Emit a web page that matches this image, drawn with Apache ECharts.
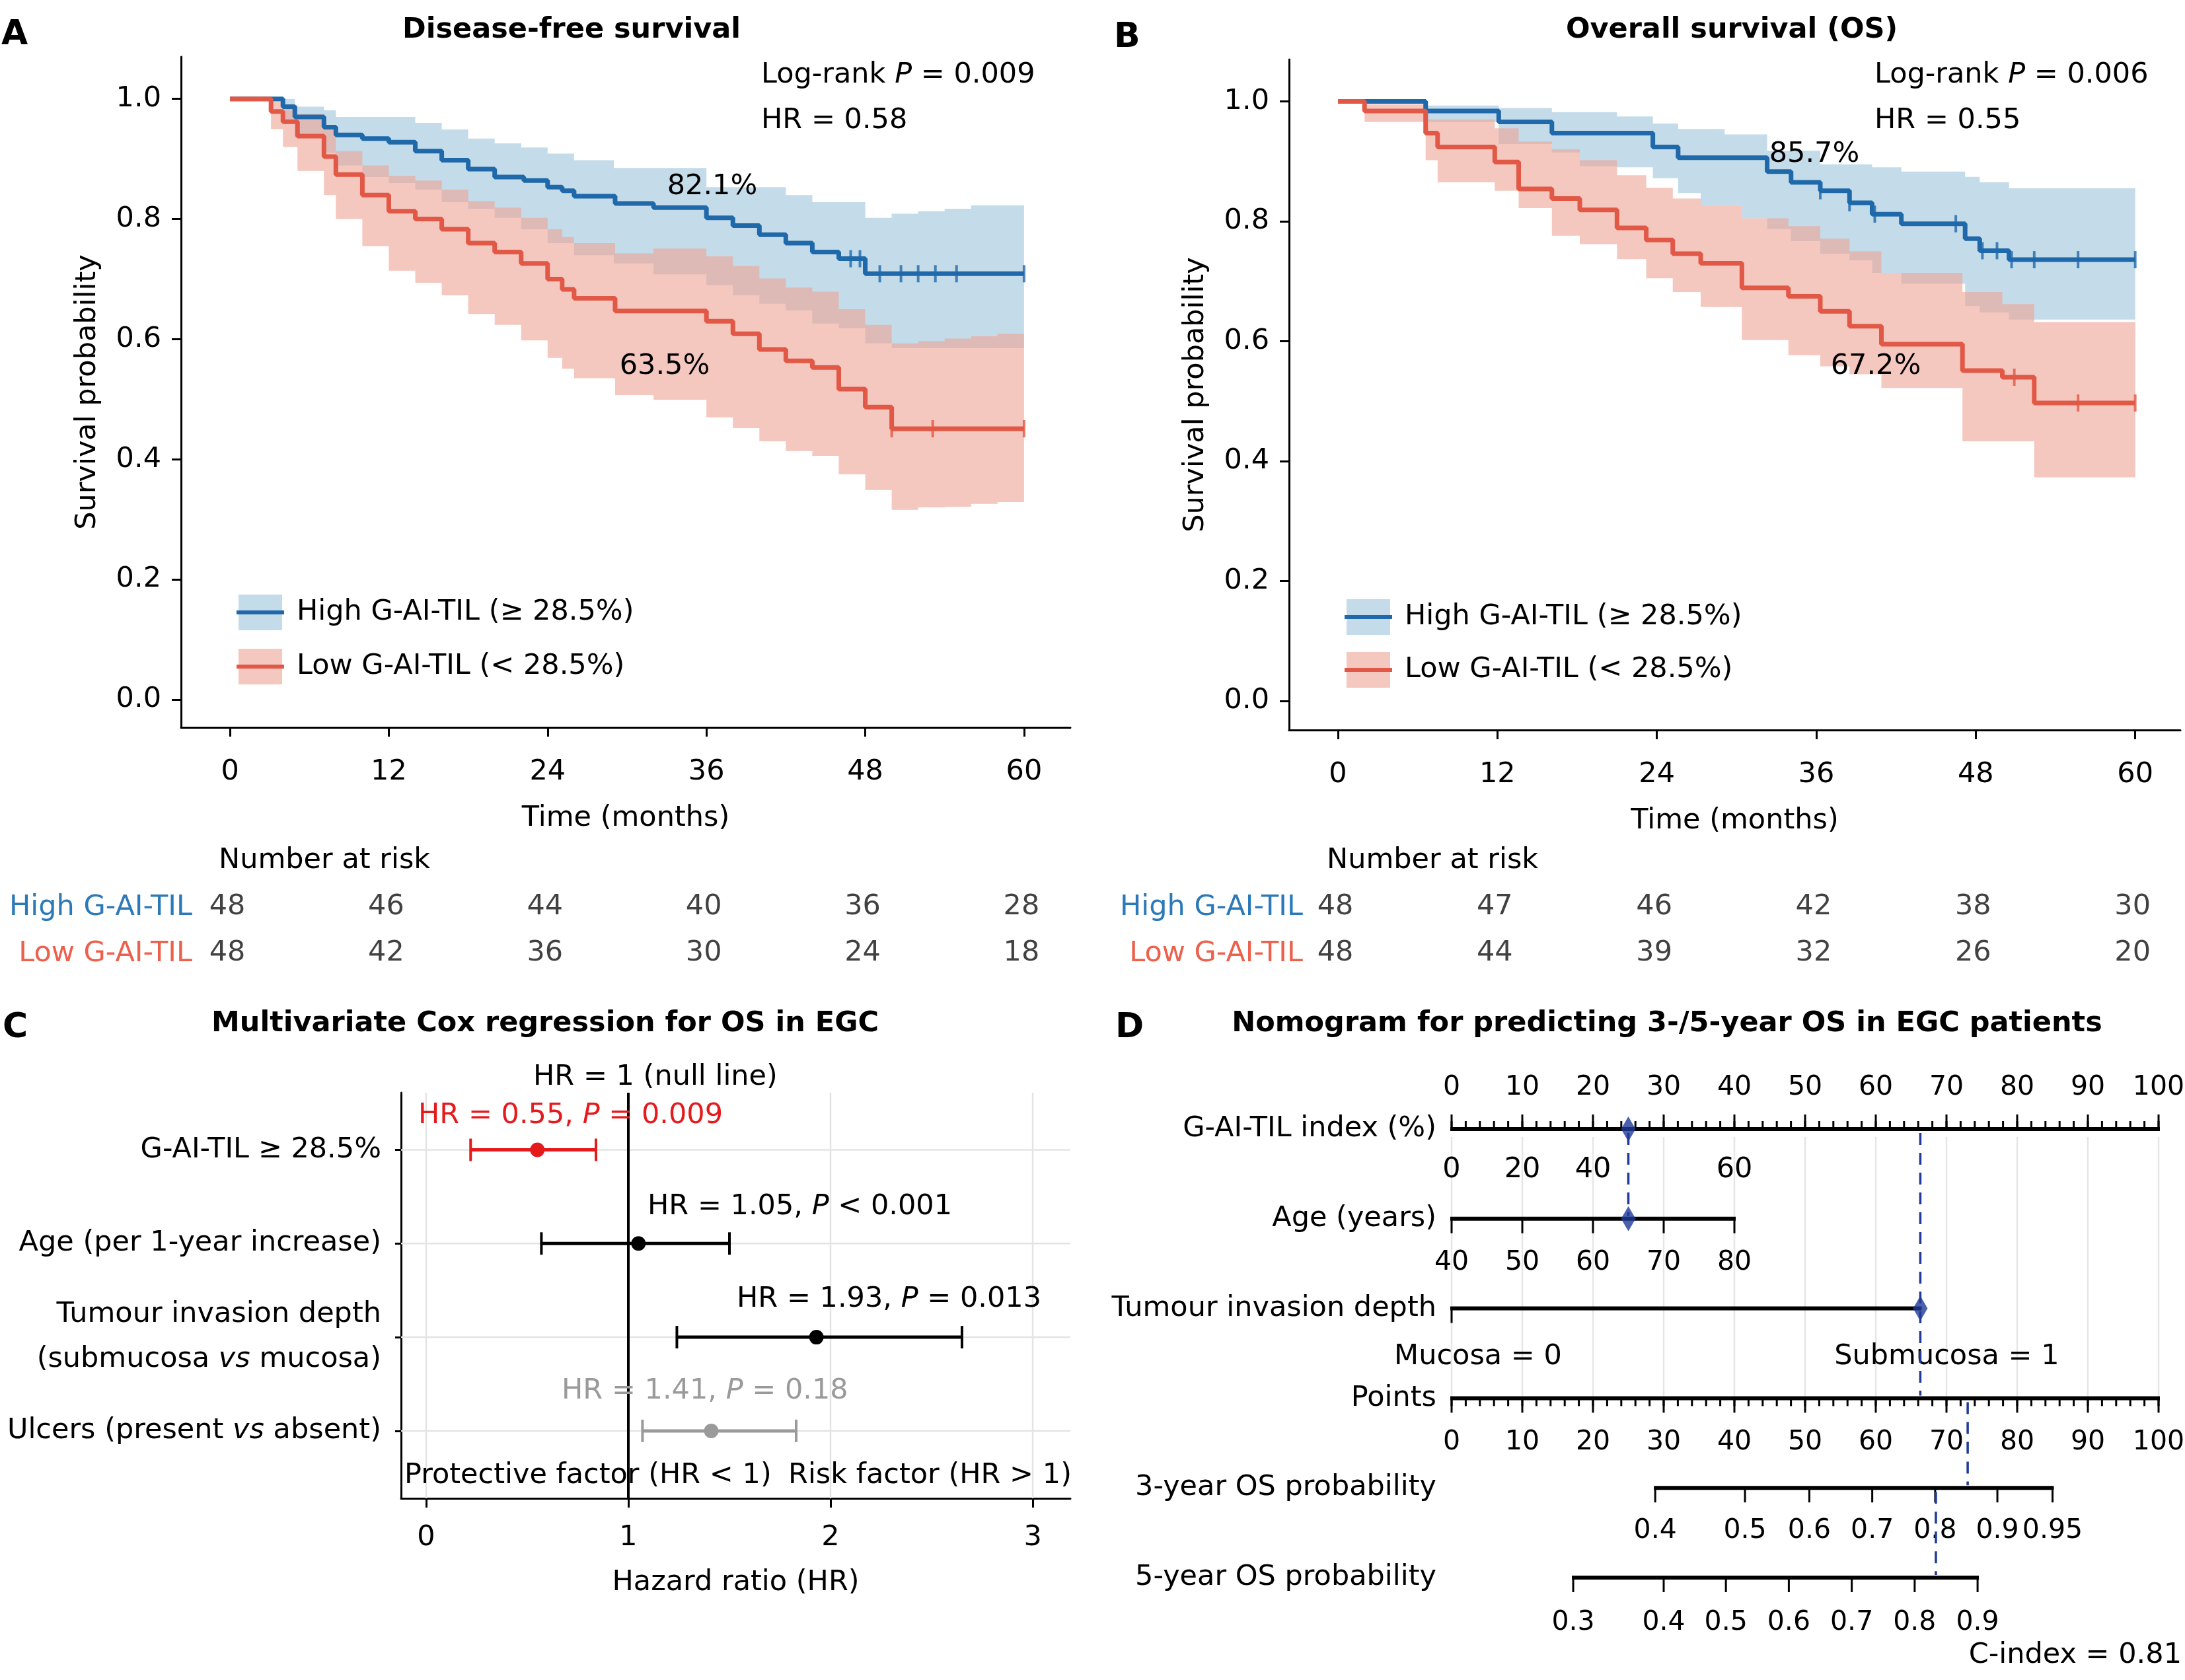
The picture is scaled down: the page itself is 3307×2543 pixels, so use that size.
<!DOCTYPE html>
<html>
<head>
<meta charset="utf-8" />
<title>G-AI-TIL survival panels</title>
<script src="https://cdn.jsdelivr.net/npm/echarts@6/dist/echarts.min.js"></script>
<style>html,body{margin:0;padding:0;background:#fff;}</style>
</head>
<body>
<div id="main" style="width:3307px;height:2543px;"></div>
<script type="text/javascript">

// ---------- data ----------
var followUp = 60;
var kmTicks = [0, 12, 24, 36, 48, 60];
var survTicks = [0, 0.2, 0.4, 0.6, 0.8, 1.0];

// A: disease-free survival
var aHighTime = [0, 4.0, 4.9, 7.1, 8.0, 10, 12, 14, 16, 18, 20, 22.2, 24, 25.1, 26, 29.1, 32, 36, 38, 40, 42, 44, 46, 48];
var aHighSurv = [1.0, 0.987, 0.970, 0.953, 0.940, 0.934, 0.928, 0.913, 0.898, 0.883, 0.870, 0.864, 0.853, 0.847, 0.838, 0.826, 0.819, 0.802, 0.789, 0.774, 0.760, 0.745, 0.734, 0.709];
var aHighBandTime = [0, 4.0, 4.9, 7.1, 8.0, 10, 12, 14, 16, 18, 20, 22, 24, 26, 29, 32, 36, 38, 40, 42, 44, 46, 48, 50, 52, 54, 56, 58];
var aHighLo = [1.0, 0.960, 0.935, 0.910, 0.889, 0.870, 0.860, 0.849, 0.828, 0.817, 0.802, 0.783, 0.760, 0.740, 0.726, 0.708, 0.690, 0.673, 0.659, 0.648, 0.626, 0.618, 0.593, 0.585, 0.585, 0.585, 0.585, 0.585];
var aHighHi = [1.0, 1.0, 0.987, 0.981, 0.970, 0.970, 0.970, 0.960, 0.949, 0.934, 0.926, 0.919, 0.909, 0.898, 0.885, 0.885, 0.853, 0.853, 0.853, 0.840, 0.828, 0.828, 0.802, 0.809, 0.813, 0.817, 0.823, 0.823];
var aHighCensor = [46.9, 47.6, 49.1, 50.7, 52.0, 53.3, 54.9, 60];

var aLowTime = [0, 3.1, 4.0, 5.1, 7.1, 8.0, 10, 12, 14, 16, 18, 20, 22, 24, 25.1, 26, 29.1, 36, 38, 40, 42, 44, 46, 48, 50];
var aLowSurv = [1.0, 0.979, 0.962, 0.938, 0.904, 0.874, 0.840, 0.813, 0.800, 0.783, 0.760, 0.745, 0.726, 0.700, 0.683, 0.668, 0.647, 0.630, 0.609, 0.583, 0.564, 0.553, 0.517, 0.487, 0.451];
var aLowBandTime = [0, 3.1, 4.0, 5.1, 7.1, 8, 10, 12, 14, 16, 18, 20, 22, 24, 25.1, 26, 29.1, 32, 36, 38, 40, 42, 44, 46, 48, 50, 52, 54, 56, 58];
var aLowLo = [1.0, 0.950, 0.920, 0.880, 0.840, 0.800, 0.755, 0.714, 0.694, 0.673, 0.642, 0.624, 0.598, 0.569, 0.551, 0.535, 0.507, 0.499, 0.470, 0.452, 0.430, 0.414, 0.406, 0.375, 0.349, 0.316, 0.320, 0.321, 0.326, 0.329];
var aLowHi = [1.0, 1.0, 0.990, 0.975, 0.955, 0.913, 0.889, 0.872, 0.864, 0.849, 0.830, 0.819, 0.802, 0.783, 0.770, 0.760, 0.743, 0.751, 0.738, 0.722, 0.701, 0.686, 0.679, 0.650, 0.624, 0.593, 0.597, 0.601, 0.605, 0.609];
var aLowCensor = [50.0, 53.1, 60];

// B: overall survival
var bHighTime = [0, 6.6, 12.1, 16.1, 23.7, 25.6, 32.3, 34.1, 36.3, 38.5, 40.2, 42.4, 47.2, 48.3, 50.5];
var bHighSurv = [1.0, 0.984, 0.966, 0.947, 0.924, 0.906, 0.883, 0.865, 0.851, 0.831, 0.812, 0.796, 0.771, 0.751, 0.736];
var bHighBandTime = [0, 6.6, 12.1, 16.1, 18.2, 21.0, 23.7, 25.6, 27.3, 29.1, 30.4, 32.3, 34.1, 36.3, 38.5, 40.2, 42.4, 47.2, 48.3, 50.5];
var bHighHi = [1.0, 0.993, 0.989, 0.982, 0.982, 0.975, 0.963, 0.954, 0.954, 0.945, 0.945, 0.918, 0.918, 0.895, 0.895, 0.890, 0.883, 0.874, 0.865, 0.855];
var bHighLo = [1.0, 0.966, 0.929, 0.915, 0.892, 0.890, 0.872, 0.847, 0.826, 0.826, 0.805, 0.787, 0.767, 0.746, 0.735, 0.714, 0.696, 0.659, 0.648, 0.636];
var bHighCensor = [36.3, 38.5, 40.4, 46.5, 48.5, 49.6, 50.7, 52.4, 55.7, 60];

var bLowTime = [0, 2.0, 6.6, 7.5, 11.8, 13.6, 16.1, 18.2, 21.0, 23.2, 25.2, 27.3, 30.4, 33.9, 36.3, 38.5, 40.9, 47.0, 50.0, 52.4];
var bLowSurv = [1.0, 0.984, 0.947, 0.924, 0.899, 0.854, 0.838, 0.819, 0.789, 0.769, 0.746, 0.730, 0.689, 0.675, 0.650, 0.625, 0.595, 0.551, 0.540, 0.497];
var bLowHi = [1.0, 0.995, 0.970, 0.970, 0.955, 0.933, 0.920, 0.902, 0.877, 0.856, 0.838, 0.826, 0.805, 0.792, 0.771, 0.750, 0.714, 0.682, 0.662, 0.632];
var bLowLo = [1.0, 0.966, 0.902, 0.865, 0.851, 0.822, 0.776, 0.762, 0.737, 0.705, 0.682, 0.657, 0.602, 0.577, 0.558, 0.545, 0.522, 0.433, 0.433, 0.373];
var bLowCensor = [50.9, 55.7, 60];

// number at risk
var riskGroups = ['High G-AI-TIL', 'Low G-AI-TIL'];
var riskTimes = [0, 12, 24, 36, 48, 60];
var aRiskHigh = [48, 46, 44, 40, 36, 28];
var aRiskLow = [48, 42, 36, 30, 24, 18];
var bRiskHigh = [48, 47, 46, 42, 38, 30];
var bRiskLow = [48, 44, 39, 32, 26, 20];

// C: multivariate Cox
var forestLabels = ['G-AI-TIL ≥ 28.5%', 'Age (per 1-year increase)', 'Tumour invasion depth\n(submucosa vs mucosa)', 'Ulcers (present vs absent)'];
var forestHR = [0.55, 1.05, 1.93, 1.41];
var forestLow = [0.22, 0.57, 1.24, 1.07];
var forestHigh = [0.84, 1.50, 2.65, 1.83];
var forestP = ['= 0.009', '< 0.001', '= 0.013', '= 0.18'];
var hrTicks = [0, 1, 2, 3];

// D: nomogram
var nomoRows = ['G-AI-TIL index (%)', 'Age (years)', 'Tumour invasion depth', 'Points', '3-year OS probability', '5-year OS probability'];
var pointTicks = [0, 10, 20, 30, 40, 50, 60, 70, 80, 90, 100];
var giAltLabels = ['0', '20', '40', '60'];
var giAltPoints = [0, 10, 20, 40];
var ageLabels = ['40', '50', '60', '70', '80'];
var agePoints = [0, 10, 20, 30, 40];
var tumourLabels = ['Mucosa = 0', 'Submucosa = 1'];
var tumourPoints = [0, 66.3];
var os3Labels = ['0.4', '0.5', '0.6', '0.7', '0.8', '0.9', '0.95'];
var os3Points = [28.8, 41.5, 50.6, 59.5, 68.4, 77.2, 85.0];
var os5Labels = ['0.3', '0.4', '0.5', '0.6', '0.7', '0.8', '0.9'];
var os5Points = [17.2, 30.0, 38.8, 47.7, 56.6, 65.5, 74.4];
var examplePoints = [25, 25, 66.3];
var exampleRows = [0, 1, 2];
var dashX = [25, 66.3, 73.0, 68.5];
var dashFrom = [0, 0, 3, 4];
var dashTo = [1, 3, 4, 5];

// ---------- styles ----------
var FONT = 'DejaVu Sans';
var FS = 43;
var NFS = 41;
var BLUE = '#1f69aa', RED = '#e25846';
var BLUE_BAND = '#c4dbea', PINK_BAND = 'rgba(238,166,153,0.63)';
var RISK_BLUE = '#2b79b8', RISK_RED = '#ec604c';
var NAVY = '#1f3a9a';
var rowColors = ['#e41a1c', '#000', '#000', '#9a9a9a'];

var myChart = echarts.init(document.getElementById('main'));

function survAt(times, surv, t) {
    var k = 0;
    for (var i = 0; i < times.length; i++) { if (times[i] <= t) k = i; }
    return surv[k];
}

function bandSeries(ai, times, lo, hi, fill, z) {
    return {
        type: 'custom', xAxisIndex: ai, yAxisIndex: ai, z: z, silent: true,
        data: [[times[0], hi[0]]],
        renderItem: function (params, api) {
            var up = [], down = [];
            for (var i = 0; i < times.length; i++) {
                var t1 = i + 1 < times.length ? times[i + 1] : followUp;
                up.push(api.coord([times[i], hi[i]]), api.coord([t1, hi[i]]));
                down.unshift(api.coord([t1, lo[i]]), api.coord([times[i], lo[i]]));
            }
            return { type: 'polygon', shape: { points: up.concat(down) }, style: { fill: fill } };
        }
    };
}

function kmLine(ai, times, surv, color, z) {
    var data = times.map(function (t, i) { return [t, surv[i]]; });
    data.push([followUp, surv[surv.length - 1]]);
    return { type: 'line', xAxisIndex: ai, yAxisIndex: ai, step: 'end', data: data, symbol: 'none',
        lineStyle: { color: color, width: 7 }, z: z };
}

function censorSeries(ai, times, surv, cens, color, z) {
    return { type: 'scatter', xAxisIndex: ai, yAxisIndex: ai, symbol: 'rect', symbolSize: [4, 26],
        itemStyle: { color: color }, z: z,
        data: cens.map(function (c) { return [c, survAt(times, surv, c)]; }) };
}

function riskSeries(ai, high, low) {
    var data = [];
    riskTimes.forEach(function (t, i) { data.push([t, riskGroups[0], high[i]]); });
    riskTimes.forEach(function (t, i) { data.push([t, riskGroups[1], low[i]]); });
    return { type: 'scatter', xAxisIndex: ai, yAxisIndex: ai, data: data, symbolSize: 0,
        itemStyle: { color: 'rgba(0,0,0,0)' }, z: 5,
        label: { show: true, position: 'inside', offset: [-4, 2], fontSize: FS, fontFamily: FONT, color: '#111',
            formatter: function (p) { return String(p.value[2]); } } };
}

function kmX(gi, min, max) {
    return { gridIndex: gi, type: 'value', min: min, max: max,
        axisLine: { onZero: false, lineStyle: { color: '#000', width: 3 } },
        axisTick: { customValues: kmTicks, length: 14, lineStyle: { color: '#000', width: 3 } },
        axisLabel: { customValues: kmTicks, fontSize: FS, fontFamily: FONT, color: '#000', margin: 46 },
        splitLine: { show: false },
        name: 'Time (months)', nameLocation: 'middle', nameGap: 116,
        nameTextStyle: { fontSize: FS, fontFamily: FONT, color: '#000' } };
}
function kmY(gi, min) {
    return { gridIndex: gi, type: 'value', min: min, max: 1.07,
        axisLine: { show: true, onZero: false, lineStyle: { color: '#000', width: 3 } },
        axisTick: { show: true, customValues: survTicks, length: 14, lineStyle: { color: '#000', width: 3 } },
        axisLabel: { customValues: survTicks, fontSize: FS, fontFamily: FONT, color: '#000', margin: 30,
            formatter: function (v) { return v.toFixed(1); } },
        splitLine: { show: false },
        name: 'Survival probability', nameLocation: 'middle', nameGap: 120, nameRotate: 90,
        nameTextStyle: { fontSize: FS, fontFamily: FONT, color: '#000' } };
}
function riskX(gi, min, max) {
    return { gridIndex: gi, type: 'value', min: min, max: max, show: false };
}
function riskY(gi, margin) {
    return { gridIndex: gi, type: 'category', data: riskGroups, inverse: true,
        axisLine: { show: false }, axisTick: { show: false },
        axisLabel: { margin: margin, formatter: function (v) { return (v === riskGroups[0] ? '{h|' : '{l|') + v + '}'; },
            rich: { h: { color: RISK_BLUE, fontSize: FS, fontFamily: FONT, padding: [6, 0, 0, 0] }, l: { color: RISK_RED, fontSize: FS, fontFamily: FONT, padding: [6, 0, 0, 0] } } } };
}

function italicP(s) {
    return s.split(' P ').map(function (p) { return '{a|' + p + '}'; }).join('{a| }{i|P}{a| }');
}
function richFor(color) {
    return { a: { fontSize: FS, fontFamily: FONT, fill: color, color: color },
             i: { fontSize: FS, fontFamily: FONT, fontStyle: 'italic', fill: color, color: color } };
}
function txt(x, y, text, opt) {
    opt = opt || {};
    return { type: 'text', x: x, y: y, z: 100, style: { text: text, fontSize: opt.size || FS, fontFamily: FONT,
        fontWeight: opt.bold ? 'bold' : 'normal', fill: opt.color || '#000',
        align: opt.align || 'left', verticalAlign: 'middle', rich: opt.rich } };
}
function legendItem(x, y, band, line, label) {
    return [
        { type: 'rect', shape: { x: x + 3, y: y - 27, width: 66, height: 54 }, style: { fill: band }, z: 100 },
        { type: 'line', shape: { x1: x, y1: y, x2: x + 72, y2: y }, style: { stroke: line, lineWidth: 6 }, z: 101 },
        txt(x + 91, y, label)
    ];
}

// ---------- nomogram helpers ----------
function nomoScale(row, ticks, labels, opt) {
    return {
        type: 'custom', xAxisIndex: 5, yAxisIndex: 5, silent: true, z: 3,
        data: [[ticks[0], row]],
        renderItem: function (params, api) {
            var ch = [];
            var from = opt.from != null ? opt.from : ticks[0];
            var to = opt.to != null ? opt.to : ticks[ticks.length - 1];
            var a = api.coord([from, row]), b = api.coord([to, row]);
            var dir = opt.up ? -1 : 1;
            ch.push({ type: 'line', shape: { x1: a[0] - 2, y1: a[1], x2: b[0] + 2, y2: b[1] }, style: { stroke: '#000', lineWidth: 6 } });
            if (opt.minor) {
                for (var v = from; v <= to; v += opt.minor) {
                    var m = api.coord([v, row]);
                    ch.push({ type: 'line', shape: { x1: m[0], y1: m[1], x2: m[0], y2: m[1] + dir * 12 }, style: { stroke: '#000', lineWidth: 3 } });
                }
            }
            ticks.forEach(function (t, i) {
                var p = api.coord([t, row]);
                ch.push({ type: 'line', shape: { x1: p[0], y1: p[1], x2: p[0], y2: p[1] + dir * 22 }, style: { stroke: '#000', lineWidth: 3 } });
                if (labels && labels[i] != null) {
                    ch.push({ type: 'text', x: p[0], y: p[1] + opt.labelDy, style: { text: String(labels[i]), fontSize: NFS, fontFamily: FONT, fill: '#000', align: 'center', verticalAlign: 'middle' } });
                }
            });
            if (opt.extra) {
                opt.extra.pts.forEach(function (t, i) {
                    var p = api.coord([t, row]);
                    ch.push({ type: 'text', x: p[0] + (opt.extra.dx || 0), y: p[1] + opt.extra.dy, style: { text: opt.extra.labels[i], fontSize: FS, fontFamily: FONT, fill: '#000', align: 'center', verticalAlign: 'middle' } });
                });
            }
            ch.push({ type: 'text', x: params.coordSys.x - 23, y: a[1], style: { text: nomoRows[row], fontSize: FS, fontFamily: FONT, fill: '#000', align: 'right', verticalAlign: 'middle' } });
            return { type: 'group', children: ch };
        }
    };
}

// ---------- option ----------
var option = {
    animation: false,
    backgroundColor: '#fff',
    textStyle: { fontFamily: FONT },
    grid: [
        { left: 274, top: 86, width: 1346, height: 1015 },
        { left: 1951, top: 90, width: 1349, height: 1015 },
        { left: 274, top: 1336, width: 1346, height: 140 },
        { left: 1951, top: 1336, width: 1349, height: 140 },
        { left: 607, top: 1654, width: 1013, height: 614 },
        { left: 2197, top: 1709, width: 1070, height: 679 }
    ],
    xAxis: [
        kmX(0, -3.7, 63.5),
        kmX(1, -3.68, 63.4),
        riskX(2, -3.7, 63.5),
        riskX(3, -3.68, 63.4),
        { gridIndex: 4, type: 'value', min: -0.124, max: 3.186,
          axisLine: { onZero: false, lineStyle: { color: '#000', width: 3 } },
          axisTick: { customValues: hrTicks, length: 14, lineStyle: { color: '#000', width: 3 } },
          axisLabel: { customValues: hrTicks, fontSize: FS, fontFamily: FONT, color: '#000', margin: 38 },
          splitLine: { show: false },
          name: 'Hazard ratio (HR)', nameLocation: 'middle', nameGap: 106,
          nameTextStyle: { fontSize: FS, fontFamily: FONT, color: '#000' } },
        { gridIndex: 5, type: 'value', min: 0, max: 100, show: false }
    ],
    yAxis: [
        kmY(0, -0.046),
        kmY(1, -0.0485),
        riskY(2, -17),
        riskY(3, -21),
        { gridIndex: 4, type: 'value', min: 0.28, max: 4.61,
          axisLine: { show: true, onZero: false, lineStyle: { color: '#000', width: 3 } },
          axisTick: { show: true, customValues: [1, 2, 3, 4], length: 9, lineStyle: { color: '#000', width: 3 } },
          axisLabel: { customValues: [1, 2, 3, 4], margin: 30,
              formatter: function (v) {
                  var s = forestLabels[forestLabels.length - v];
                  return s.split('\n').map(function (line) {
                      return line.split(' vs ').map(function (p) { return '{n|' + p + '}'; }).join('{n| }{i|vs}{n| }');
                  }).join('\n');
              },
              rich: { n: { fontSize: FS, fontFamily: FONT, color: '#000', lineHeight: 68 },
                      i: { fontSize: FS, fontFamily: FONT, color: '#000', fontStyle: 'italic', lineHeight: 68 } } },
          splitLine: { show: false } },
        { gridIndex: 5, type: 'value', min: 0, max: 5, inverse: true, show: false }
    ],
    series: [
        // A
        bandSeries(0, aHighBandTime, aHighLo, aHighHi, BLUE_BAND, 1),
        bandSeries(0, aLowBandTime, aLowLo, aLowHi, PINK_BAND, 2),
        kmLine(0, aHighTime, aHighSurv, BLUE, 4),
        kmLine(0, aLowTime, aLowSurv, RED, 5),
        censorSeries(0, aHighTime, aHighSurv, aHighCensor, BLUE, 6),
        censorSeries(0, aLowTime, aLowSurv, aLowCensor, RED, 6),
        // B
        bandSeries(1, bHighBandTime, bHighLo, bHighHi, BLUE_BAND, 1),
        bandSeries(1, bLowTime, bLowLo, bLowHi, PINK_BAND, 2),
        kmLine(1, bHighTime, bHighSurv, BLUE, 4),
        kmLine(1, bLowTime, bLowSurv, RED, 5),
        censorSeries(1, bHighTime, bHighSurv, bHighCensor, BLUE, 6),
        censorSeries(1, bLowTime, bLowSurv, bLowCensor, RED, 6),
        // risk tables
        riskSeries(2, aRiskHigh, aRiskLow),
        riskSeries(3, bRiskHigh, bRiskLow),
        // C: grid lines
        { type: 'custom', xAxisIndex: 4, yAxisIndex: 4, silent: true, z: 1,
          data: hrTicks.map(function (v) { return [v, 0]; }),
          renderItem: function (params, api) {
              var p = api.coord([api.value(0), 1]);
              var cs = params.coordSys;
              return { type: 'line', shape: { x1: p[0], y1: cs.y, x2: p[0], y2: cs.y + cs.height }, style: { stroke: '#e4e4e4', lineWidth: 2.5 } };
          } },
        { type: 'custom', xAxisIndex: 4, yAxisIndex: 4, silent: true, z: 1,
          data: forestHR.map(function (hr, i) { return [hr, forestLabels.length - i]; }),
          renderItem: function (params, api) {
              var p = api.coord([0, api.value(1)]);
              var cs = params.coordSys;
              return { type: 'line', shape: { x1: cs.x, y1: p[1], x2: cs.x + cs.width, y2: p[1] }, style: { stroke: '#e4e4e4', lineWidth: 2.5 } };
          } },
        // null line
        { type: 'custom', xAxisIndex: 4, yAxisIndex: 4, silent: true, z: 3,
          data: [[1, 0]],
          renderItem: function (params, api) {
              var p = api.coord([api.value(0), 1]);
              var cs = params.coordSys;
              return { type: 'line', shape: { x1: p[0], y1: cs.y, x2: p[0], y2: cs.y + cs.height }, style: { stroke: '#000', lineWidth: 4 } };
          } },
        // C: estimates with CI
        { type: 'custom', xAxisIndex: 4, yAxisIndex: 4, z: 4,
          data: forestHR.map(function (hr, i) { return [hr, forestLow[i], forestHigh[i], forestLabels.length - i]; }),
          renderItem: function (params, api) {
              var row = api.value(3);
              var p0 = api.coord([api.value(1), row]), p1 = api.coord([api.value(2), row]), pc = api.coord([api.value(0), row]);
              var c = rowColors[params.dataIndex];
              return { type: 'group', children: [
                  { type: 'line', shape: { x1: p0[0], y1: p0[1], x2: p1[0], y2: p1[1] }, style: { stroke: c, lineWidth: 5 } },
                  { type: 'line', shape: { x1: p0[0], y1: p0[1] - 17, x2: p0[0], y2: p0[1] + 17 }, style: { stroke: c, lineWidth: 4 } },
                  { type: 'line', shape: { x1: p1[0], y1: p1[1] - 17, x2: p1[0], y2: p1[1] + 17 }, style: { stroke: c, lineWidth: 4 } },
                  { type: 'circle', shape: { cx: pc[0], cy: pc[1], r: 11 }, style: { fill: c } }
              ] };
          } },
        // D: vertical guide lines
        { type: 'custom', xAxisIndex: 5, yAxisIndex: 5, silent: true, z: 1,
          data: pointTicks.map(function (v) { return [v, 0]; }),
          renderItem: function (params, api) {
              var a = api.coord([api.value(0), 0]), b = api.coord([api.value(0), 3]);
              return { type: 'line', shape: { x1: a[0], y1: a[1] + 12, x2: b[0], y2: b[1] }, style: { stroke: '#e6e6e6', lineWidth: 2.5 } };
          } },
        nomoScale(0, pointTicks, pointTicks, { up: true, minor: 2, labelDy: -63, extra: { pts: giAltPoints, labels: giAltLabels, dy: 62 } }),
        nomoScale(1, agePoints, ageLabels, { labelDy: 67 }),
        nomoScale(2, [tumourPoints[0]], null, { to: tumourPoints[1], extra: { pts: tumourPoints, labels: tumourLabels, dy: 73, dx: 40 } }),
        nomoScale(3, pointTicks, pointTicks, { minor: 2, labelDy: 67 }),
        nomoScale(4, os3Points, os3Labels, { labelDy: 65 }),
        nomoScale(5, os5Points, os5Labels, { labelDy: 68 }),
        // D: dashed read-off lines
        { type: 'custom', xAxisIndex: 5, yAxisIndex: 5, silent: true, z: 4,
          data: dashX.map(function (x, i) { return [x, dashFrom[i], dashTo[i]]; }),
          renderItem: function (params, api) {
              var a = api.coord([api.value(0), api.value(1)]), b = api.coord([api.value(0), api.value(2)]);
              return { type: 'line', shape: { x1: a[0], y1: a[1] + 6, x2: b[0], y2: b[1] - 4 }, style: { stroke: NAVY, lineWidth: 3.5, lineDash: [18, 12] } };
          } },
        { type: 'scatter', xAxisIndex: 5, yAxisIndex: 5, z: 6, symbol: 'diamond', symbolSize: [22, 38],
          itemStyle: { color: NAVY },
          data: examplePoints.map(function (p, i) { return [p, exampleRows[i]]; }) }
    ],
    graphic: [].concat(
        [
            txt(2, 53, 'A', { bold: true, size: 52 }),
            txt(1686, 57, 'B', { bold: true, size: 52 }),
            txt(4, 1556, 'C', { bold: true, size: 52 }),
            txt(1688, 1556, 'D', { bold: true, size: 52 }),
            txt(865, 46, 'Disease-free survival', { bold: true, align: 'center' }),
            txt(2621, 46, 'Overall survival (OS)', { bold: true, align: 'center' }),
            txt(825, 1550, 'Multivariate Cox regression for OS in EGC', { bold: true, align: 'center' }),
            txt(2523, 1550, 'Nomogram for predicting 3-/5-year OS in EGC patients', { bold: true, align: 'center' }),
            txt(1152, 114, italicP('Log-rank P = 0.009'), { rich: richFor('#000') }),
            txt(1152, 183, 'HR = 0.58'),
            txt(2837, 114, italicP('Log-rank P = 0.006'), { rich: richFor('#000') }),
            txt(2837, 183, 'HR = 0.55'),
            txt(1078, 283, '82.1%', { align: 'center' }),
            txt(1006, 555, '63.5%', { align: 'center' }),
            txt(2746, 234, '85.7%', { align: 'center' }),
            txt(2839, 555, '67.2%', { align: 'center' }),
            txt(331, 1303, 'Number at risk'),
            txt(2008, 1303, 'Number at risk'),
            txt(807, 1631, 'HR = 1 (null line)'),
            txt(612, 2234, 'Protective factor (HR < 1)'),
            txt(1193, 2234, 'Risk factor (HR > 1)'),
            txt(3302, 2506, 'C-index = 0.81', { align: 'right' })
        ],
        [[633, 1689], [980, 1827], [1115, 1967], [850, 2106]].map(function (pos, i) {
            var s = 'HR = ' + forestHR[i].toFixed(2) + ', P ' + forestP[i];
            return txt(pos[0], pos[1], italicP(s), { rich: richFor(rowColors[i]) });
        }),
        legendItem(358, 927, BLUE_BAND, BLUE, 'High G-AI-TIL (≥ 28.5%)'),
        legendItem(358, 1009, '#f4c7bf', RED, 'Low G-AI-TIL (< 28.5%)'),
        legendItem(2035, 934, BLUE_BAND, BLUE, 'High G-AI-TIL (≥ 28.5%)'),
        legendItem(2035, 1014, '#f4c7bf', RED, 'Low G-AI-TIL (< 28.5%)')
    )
};

myChart.setOption(option);
</script>
</body>
</html>
